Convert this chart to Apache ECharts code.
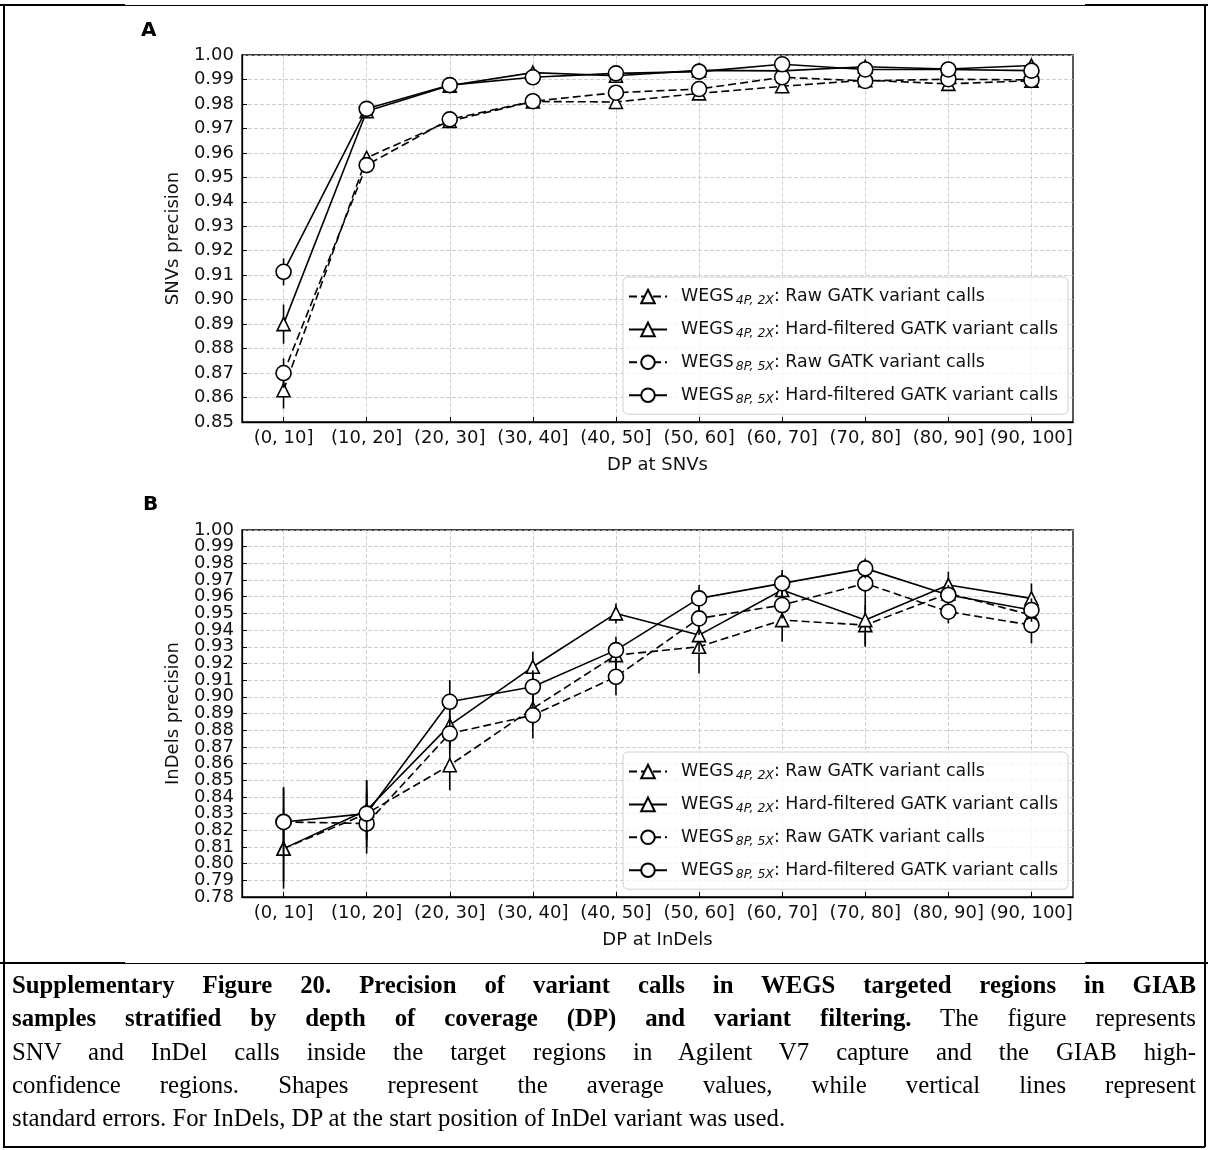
<!DOCTYPE html>
<html>
<head>
<meta charset="utf-8">
<script src="https://cdn.jsdelivr.net/npm/echarts@6/dist/echarts.min.js"></script>
<style>
  html, body { margin: 0; padding: 0; background: #fff; }
  #page { position: relative; width: 1208px; height: 1150px; overflow: hidden; background: #fff; }
  #chart { position: absolute; left: 0; top: 0; width: 1208px; height: 963px; }
  .rule { position: absolute; background: #000; }
  #caption {
    position: absolute; left: 12px; top: 968px; width: 1184px;
    font-family: "Liberation Serif", "Times New Roman", serif;
    font-size: 24.8px; line-height: 33.3px; color: #000;
  }
  #caption div { text-align: justify; text-align-last: justify; }
  #caption div.last { text-align-last: left; }
</style>
</head>
<body>
<div id="page">
  <div id="chart"></div>
  <!-- table frame around the figure and its caption -->
  <div class="rule" style="left:3px;top:5px;width:1202px;height:1px;"></div>
  <div class="rule" style="left:0;top:4px;width:125px;height:2px;"></div>
  <div class="rule" style="left:1085px;top:4px;width:123px;height:2px;"></div>
  <div class="rule" style="left:3px;top:963px;width:1202px;height:1px;"></div>
  <div class="rule" style="left:0;top:962px;width:125px;height:2px;"></div>
  <div class="rule" style="left:1085px;top:962px;width:123px;height:2px;"></div>
  <div class="rule" style="left:3px;top:1146px;width:1202px;height:1.5px;"></div>
  <div class="rule" style="left:3px;top:5px;width:1.5px;height:1142px;"></div>
  <div class="rule" style="left:1204px;top:5px;width:1.5px;height:1142px;"></div>
  <div id="caption">
    <div><b>Supplementary Figure 20. Precision of variant calls in WEGS targeted regions in GIAB</b></div>
    <div><b>samples stratified by depth of coverage (DP) and variant filtering.</b> The figure represents</div>
    <div>SNV and InDel calls inside the target regions in Agilent V7 capture and the GIAB high-</div>
    <div>confidence regions. Shapes represent the average values, while vertical lines represent</div>
    <div class="last">standard errors. For InDels, DP at the start position of InDel variant was used.</div>
  </div>
</div>
<script>
// depth-of-coverage bins shared by both panels
const categories = ['(0, 10]', '(10, 20]', '(20, 30]', '(30, 40]', '(40, 50]',
                    '(50, 60]', '(60, 70]', '(70, 80]', '(80, 90]', '(90, 100]'];

// Panel A: SNV precision (mean) and standard error
const snvRaw4  = [0.863, 0.958, 0.973, 0.981, 0.9808, 0.9843, 0.9872, 0.9897, 0.9882, 0.9895];
const snvHard4 = [0.890, 0.9770, 0.9875, 0.9928, 0.9915, 0.9937, 0.9935, 0.9952, 0.9943, 0.9957];
const snvRaw8  = [0.870, 0.955, 0.9737, 0.9811, 0.9846, 0.9861, 0.9909, 0.9894, 0.9901, 0.9898];
const snvHard8 = [0.9114, 0.978, 0.9877, 0.9909, 0.9925, 0.9932, 0.9962, 0.9941, 0.9941, 0.9936];
const snvRaw4Err  = [0.0075, 0.002, 0.001, 0.0008, 0.0008, 0.0008, 0.0008, 0.0008, 0.0008, 0.0008];
const snvHard4Err = [0.008, 0.0015, 0.0008, 0.0008, 0.0006, 0.0006, 0.0008, 0.0008, 0.0006, 0.0008];
const snvRaw8Err  = [0.006, 0.002, 0.001, 0.0008, 0.0008, 0.0008, 0.0008, 0.0006, 0.0006, 0.0006];
const snvHard8Err = [0.0055, 0.001, 0.0008, 0.0006, 0.0006, 0.0006, 0.0006, 0.0006, 0.0006, 0.0006];

// Panel B: InDel precision (mean) and standard error
const indRaw4  = [0.809, 0.830, 0.859, 0.893, 0.925, 0.930, 0.946, 0.943, 0.962, 0.949];
const indHard4 = [0.809, 0.832, 0.883, 0.918, 0.950, 0.937, 0.964, 0.946, 0.967, 0.959];
const indRaw8  = [0.825, 0.824, 0.878, 0.889, 0.912, 0.947, 0.955, 0.968, 0.951, 0.943];
const indHard8 = [0.825, 0.830, 0.897, 0.906, 0.928, 0.959, 0.968, 0.977, 0.961, 0.952];
const indRaw4Err  = [0.020, 0.015, 0.015, 0.010, 0.008, 0.016, 0.013, 0.012, 0.008, 0.008];
const indHard4Err = [0.024, 0.018, 0.012, 0.009, 0.006, 0.010, 0.010, 0.016, 0.008, 0.009];
const indRaw8Err  = [0.020, 0.018, 0.010, 0.014, 0.011, 0.010, 0.008, 0.006, 0.007, 0.011];
const indHard8Err = [0.021, 0.020, 0.013, 0.010, 0.008, 0.008, 0.008, 0.006, 0.006, 0.007];

// y-axis ranges and tick step
const snvAxis = { min: 0.85, max: 1.00, step: 0.01 };
const indAxis = { min: 0.78, max: 1.00, step: 0.01 };

const seriesNames = ['raw4', 'hard4', 'raw8', 'hard8'];
const legendLabels = {
  raw4:  '{w|WEGS}{s|4P, 2X}{t|: Raw GATK variant calls}',
  hard4: '{w|WEGS}{s|4P, 2X}{t|: Hard-filtered GATK variant calls}',
  raw8:  '{w|WEGS}{s|8P, 5X}{t|: Raw GATK variant calls}',
  hard8: '{w|WEGS}{s|8P, 5X}{t|: Hard-filtered GATK variant calls}'
};

const FONT = 'DejaVu Sans';
const INK = '#111';

function lineSeries(name, data, idx, dashed, symbol, z) {
  return {
    type: 'line', name: name, data: data,
    xAxisIndex: idx, yAxisIndex: idx, z: z,
    symbol: symbol, symbolSize: symbol === 'circle' ? 15 : 13,
    showSymbol: true, animation: false, silent: true,
    lineStyle: { color: '#000', width: 1.6, type: dashed ? [8, 4] : 'solid' },
    itemStyle: { color: '#fff', borderColor: '#000', borderWidth: 1.6 },
    emphasis: { disabled: true }
  };
}

function errSeries(name, data, err, idx, z) {
  return {
    type: 'custom', name: name + ' SE', xAxisIndex: idx, yAxisIndex: idx, z: z,
    animation: false, silent: true, clip: true,
    data: data.map((v, i) => [i, v - err[i], v + err[i]]),
    encode: { x: 0, y: [1, 2] },
    renderItem: function (params, api) {
      const a = api.coord([api.value(0), api.value(1)]);
      const b = api.coord([api.value(0), api.value(2)]);
      return {
        type: 'line',
        shape: { x1: a[0], y1: a[1], x2: b[0], y2: b[1] },
        style: { stroke: '#000', lineWidth: 1.6 }
      };
    }
  };
}

function xAxis(idx, title) {
  return {
    type: 'category', gridIndex: idx, data: categories, boundaryGap: true,
    axisLine: { show: true, lineStyle: { color: '#000', width: 1.3 } },
    axisTick: { show: true, inside: true, length: 5, alignWithLabel: true, lineStyle: { color: '#000', width: 1 } },
    axisLabel: { interval: 0, fontFamily: FONT, fontSize: 18, color: INK, margin: 7 },
    splitLine: { show: true, alignWithLabel: true, lineStyle: { color: '#c4c4c4', width: 0.8, type: [4, 2] } },
    name: title, nameLocation: 'middle', nameGap: 34,
    nameTextStyle: { fontFamily: FONT, fontSize: 18, color: INK, verticalAlign: 'top' }
  };
}

const yLabelText = { fontFamily: FONT, fontSize: 18, color: INK };

// main value axis: inner tick labels, ticks, grid lines and title
function yAxis(idx, range, title) {
  return {
    type: 'value', gridIndex: idx, min: range.min, max: range.max, interval: range.step,
    axisLine: { show: true, lineStyle: { color: '#000', width: 1.3 } },
    axisTick: { show: true, inside: true, length: 5, lineStyle: { color: '#000', width: 1 } },
    axisLabel: Object.assign({ margin: 8, showMinLabel: false, showMaxLabel: false,
                               formatter: v => v.toFixed(2) }, yLabelText),
    splitLine: { show: true, lineStyle: { color: '#c4c4c4', width: 0.8, type: [4, 2] } },
    name: title, nameLocation: 'middle', nameGap: 60, nameRotate: 90,
    nameTextStyle: { fontFamily: FONT, fontSize: 18, color: INK }
  };
}

// companion axis on the same grid that prints only the end labels
function yEndLabels(idx, range) {
  const isEnd = v => Math.abs(v - range.min) < 1e-9 || Math.abs(v - range.max) < 1e-9;
  return {
    type: 'value', gridIndex: idx, position: 'left', min: range.min, max: range.max, interval: range.step,
    axisLine: { show: false }, axisTick: { show: false }, splitLine: { show: false },
    axisLabel: Object.assign({ margin: 8, showMinLabel: true, showMaxLabel: true,
                               formatter: v => isEnd(v) ? v.toFixed(2) : '' }, yLabelText)
  };
}

function legend(top) {
  return {
    data: seriesNames, orient: 'vertical', left: 623, top: top,
    itemWidth: 38, itemHeight: 17, itemGap: 13.4,
    padding: [11, 10, 8, 5],
    backgroundColor: 'rgba(255,255,255,0.8)', borderColor: '#cfcfcf', borderWidth: 1, borderRadius: 5,
    selectedMode: false,
    formatter: n => legendLabels[n],
    textStyle: {
      fontFamily: FONT, fontSize: 17.4, color: INK,
      rich: {
        w: { fontFamily: FONT, fontSize: 17.4, color: INK, lineHeight: 22, padding: [0, 2, 0, 9] },
        s: { fontFamily: FONT, fontSize: 12.5, fontStyle: 'italic', color: INK, lineHeight: 12, verticalAlign: 'bottom' },
        t: { fontFamily: FONT, fontSize: 17.4, color: INK, lineHeight: 22 }
      }
    }
  };
}

const panels = [
  { idx: 0, data: [snvRaw4, snvHard4, snvRaw8, snvHard8], err: [snvRaw4Err, snvHard4Err, snvRaw8Err, snvHard8Err] },
  { idx: 1, data: [indRaw4, indHard4, indRaw8, indHard8], err: [indRaw4Err, indHard4Err, indRaw8Err, indHard8Err] }
];
const dashedFlags = [true, false, true, false];
const symbols = ['triangle', 'triangle', 'circle', 'circle'];

const series = [];
panels.forEach(p => {
  seriesNames.forEach((name, k) => {
    series.push(errSeries(name, p.data[k], p.err[k], p.idx, 10 + 2 * k));
    series.push(lineSeries(name, p.data[k], p.idx, dashedFlags[k], symbols[k], 11 + 2 * k));
  });
});

const chart = echarts.init(document.getElementById('chart'), null, { renderer: 'canvas' });
chart.setOption({
  animation: false,
  backgroundColor: 'transparent',
  grid: [
    { left: 242, top: 55, width: 831, height: 367, show: true, borderColor: '#000', borderWidth: 1.3, backgroundColor: 'transparent' },
    { left: 242, top: 530, width: 831, height: 367, show: true, borderColor: '#000', borderWidth: 1.3, backgroundColor: 'transparent' }
  ],
  xAxis: [xAxis(0, 'DP at SNVs'), xAxis(1, 'DP at InDels')],
  yAxis: [yAxis(0, snvAxis, 'SNVs precision'), yAxis(1, indAxis, 'InDels precision'),
          yEndLabels(0, snvAxis), yEndLabels(1, indAxis)],
  legend: [legend(277), legend(752)],
  graphic: [
    { type: 'text', left: 141, top: 21, style: { text: 'A', fontFamily: FONT, fontWeight: 'bold', fontSize: 20, fill: '#000' } },
    { type: 'text', left: 143, top: 495, style: { text: 'B', fontFamily: FONT, fontWeight: 'bold', fontSize: 20, fill: '#000' } }
  ],
  series: series
});
</script>
</body>
</html>
